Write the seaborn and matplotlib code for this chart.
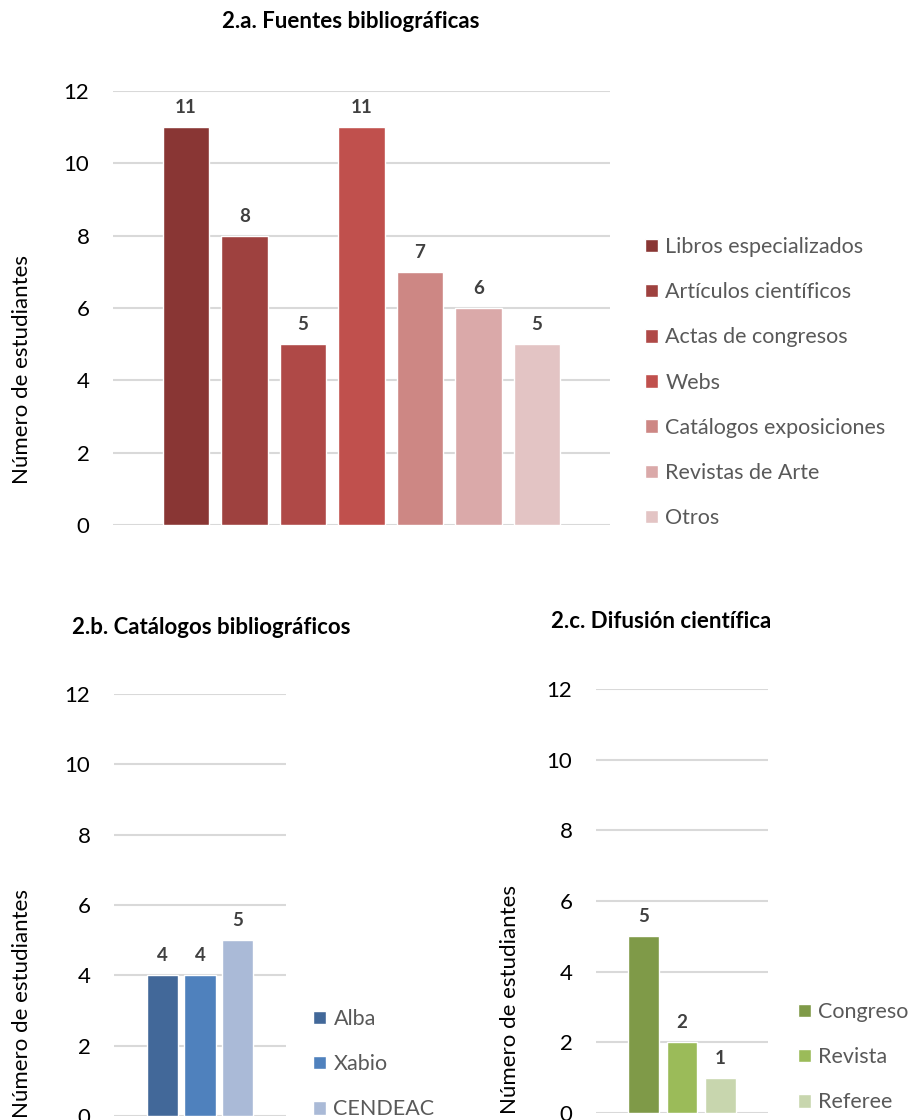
import matplotlib
matplotlib.use("Agg")
import matplotlib.pyplot as plt
import seaborn as sns
import pandas as pd

# ---- data ----
fuentes_cats = ["Libros especializados", "Artículos científicos", "Actas de congresos", "Webs",
                "Catálogos exposiciones", "Revistas de Arte", "Otros"]
fuentes_vals = [11, 8, 5, 11, 7, 6, 5]
fuentes_colors = ["#893634", "#9E413F", "#AF4947", "#C0504D", "#CD8784", "#DAA9A9", "#E3C4C4"]

catalogos_cats = ["Alba", "Xabio", "CENDEAC"]
catalogos_vals = [4, 4, 5]
catalogos_colors = ["#426899", "#4F81BD", "#AABAD7"]

difusion_cats = ["Congreso", "Revista", "Referee"]
difusion_vals = [5, 2, 1]
difusion_colors = ["#7F9A48", "#9BBB59", "#C8D6AE"]

yticks = [0, 2, 4, 6, 8, 10, 12]
titles = ["2.a. Fuentes bibliográficas", "2.b. Catálogos bibliográficos", "2.c. Difusión científica"]
ylabel = "Número de estudiantes"

sns.set_theme(style="white")
plt.rcParams["font.family"] = ["Lato", "DejaVu Sans"]

W, H = 911, 1120
fig = plt.figure(figsize=(W / 100, H / 100), dpi=100)

TICK_FS = 16
LEG_FS = 15.5
TITLE_FS = 16
LABEL_FS = 13.5
YLAB_FS = 16


def px_axes(x0, x1, y_top, y_bot):
    return fig.add_axes([x0 / W, 1 - y_bot / H, (x1 - x0) / W, (y_bot - y_top) / H])


def draw(ax, cats, vals, colors, width, xlim, legend_anchor):
    df = pd.DataFrame({"cat": cats, "val": vals})
    sns.barplot(data=df, x="cat", y="val", hue="cat", hue_order=cats, order=cats,
                palette=colors, saturation=1, width=width, ax=ax, legend=True)
    handles, labels = ax.get_legend_handles_labels()
    if ax.get_legend() is not None:
        ax.get_legend().remove()
    for cont in ax.containers:
        ax.bar_label(cont, fmt="%d", padding=8, fontsize=LABEL_FS, fontweight="bold",
                     color="#404040")
    ax.set_ylim(0, 12)
    ax.set_xlim(*xlim)
    ax.set_yticks(yticks)
    ax.set_xticks([])
    ax.set_xlabel("")
    ax.set_ylabel("")
    ax.grid(axis="y", color="#D9D9D9", linewidth=1.5)
    ax.set_axisbelow(True)
    for s in ax.spines.values():
        s.set_visible(False)
    ax.tick_params(axis="y", length=0, pad=17, labelsize=TICK_FS, labelcolor="#000000")
    leg = fig.legend(handles, labels, loc="upper left",
                     bbox_to_anchor=(legend_anchor[0] / W, 1 - legend_anchor[1] / H),
                     frameon=False, fontsize=LEG_FS, handlelength=0.6, handleheight=0.6,
                     handletextpad=0.35, labelspacing=1.17, borderpad=0, borderaxespad=0)
    for t in leg.get_texts():
        t.set_color("#595959")
    return ax


# Top chart
ax1 = px_axes(113, 610, 91, 525)
draw(ax1, fuentes_cats, fuentes_vals, fuentes_colors, 0.8, (-1.25, 7.25), (645, 237))
fig.text(351 / W, 1 - 22 / H, titles[0], ha="center", va="center", fontsize=TITLE_FS,
         fontweight="bold", color="#000000")
fig.text(22 / W, 1 - 370 / H, ylabel, rotation=90, ha="center", va="center", fontsize=YLAB_FS,
         color="#000000")

# Bottom left
ax2 = px_axes(114, 286, 694, 1116)
draw(ax2, catalogos_cats, catalogos_vals, catalogos_colors, 0.83, (-1.3, 3.3), (313, 1009))
fig.text(211 / W, 1 - 628 / H, titles[1], ha="center", va="center", fontsize=TITLE_FS,
         fontweight="bold", color="#000000")
fig.text(22 / W, 1 - 1003 / H, ylabel, rotation=90, ha="center", va="center", fontsize=YLAB_FS,
         color="#000000")

# Bottom right
ax3 = px_axes(596, 768, 689, 1113)
draw(ax3, difusion_cats, difusion_vals, difusion_colors, 0.8, (-1.23, 3.23), (798, 1002))
fig.text(661 / W, 1 - 622 / H, titles[2], ha="center", va="center", fontsize=TITLE_FS,
         fontweight="bold", color="#000000")
fig.text(510 / W, 1 - 1000 / H, ylabel, rotation=90, ha="center", va="center", fontsize=YLAB_FS,
         color="#000000")

fig.savefig("out.png", dpi=100, facecolor="white")
